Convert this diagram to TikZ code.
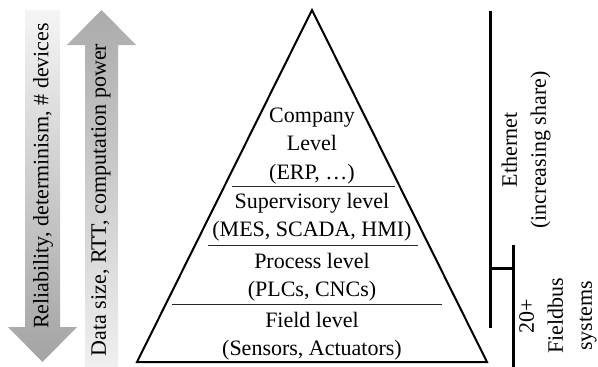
\documentclass[tikz,border=0pt]{standalone}
\usepackage{fontspec}
\setmainfont{Liberation Serif}
\begin{document}
\begin{tikzpicture}[x=1pt,y=-1pt,
  lvl/.style={align=center, font=\fontsize{22}{28.5}\selectfont, inner sep=0pt},
  side/.style={align=center, font=\fontsize{22}{29}\selectfont, inner sep=0pt, rotate=90},
  arrowtext/.style={font=\fontsize{22}{26}\selectfont, inner sep=0pt, rotate=90},
  bus/.style={line width=3pt},
  divider/.style={line width=0.9pt, black!85},
  pyramid/.style={line width=2pt, line join=miter}]
\useasboundingbox (0,0) rectangle (598,367);
% gradient arrows
\shade[top color=black!4, bottom color=black!36]
  (25,10) -- (60,10) -- (60,327) -- (77,327) -- (42.5,362) -- (8,327) -- (25,327) -- cycle;
\shade[top color=black!33, bottom color=black!6]
  (101.5,10) -- (136,45) -- (118,45) -- (118,367) -- (85,367) -- (85,45) -- (67,45) -- cycle;
\node[arrowtext] (reltext) at (43,176) {Reliability, determinism, \# devices};
\node[arrowtext] (datatext) at (101,200) {Data size, RTT, computation power};
% pyramid
\coordinate (apex) at (312,10);
\coordinate (bl) at (137,362);
\coordinate (br) at (487,362);
\draw[pyramid] (bl) -- (apex) -- (br) -- cycle;
\coordinate (d1l) at (232,186); \coordinate (d1r) at (395,186);
\coordinate (d2l) at (208,245); \coordinate (d2r) at (418,245);
\coordinate (d3l) at (172,304); \coordinate (d3r) at (442,304);
\draw[divider] (d1l) -- (d1r);
\draw[divider] (d2l) -- (d2r);
\draw[divider] (d3l) -- (d3r);
\node[lvl] (company) at (312,146) {Company\\Level\\(ERP, …)};
\node[lvl] (super) at (312,217) {Supervisory level\\(MES, SCADA, HMI)};
\node[lvl] (process) at (312,277) {Process level\\(PLCs, CNCs)};
\node[lvl] (field) at (312,336) {Field level\\(Sensors, Actuators)};
% buses
\coordinate (ethtop) at (490,11);
\coordinate (ethbot) at (490,328);
\coordinate (fbtop) at (513,245);
\coordinate (fbbot) at (513,367);
\coordinate (ethtap) at (490,268);
\coordinate (fbtap) at (513,268);
\draw[bus] (ethtop) -- (ethbot);
\draw[bus] (fbtop) -- (fbbot);
\draw[bus] (ethtap) -- (fbtap);
\node[side] (eth) at (526,150) {Ethernet\\(increasing share)};
\node[side] (fb) at (558,316) {20+\\Fieldbus\\systems};
\end{tikzpicture}
\end{document}
